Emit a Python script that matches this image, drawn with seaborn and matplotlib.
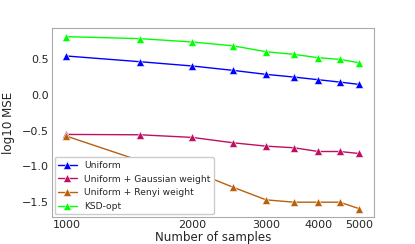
import numpy as np
import pandas as pd
import matplotlib
matplotlib.use("Agg")
import matplotlib.pyplot as plt
import seaborn as sns

# sample sizes on the x axis
samples = [1000, 1500, 2000, 2500, 3000, 3500, 4000, 4500, 5000]

# log10 MSE per method
uniform = [0.547, 0.467, 0.407, 0.346, 0.29, 0.252, 0.215, 0.182, 0.15]
gauss_w = [-0.551, -0.556, -0.593, -0.668, -0.715, -0.738, -0.79, -0.79, -0.818]
renyi_w = [-0.575, -0.92, -1.06, -1.29, -1.467, -1.5, -1.5, -1.5, -1.589]
ksd_opt = [0.818, 0.79, 0.743, 0.69, 0.607, 0.57, 0.523, 0.5, 0.453]

names = ["Uniform", "Uniform + Gaussian weight", "Uniform + Renyi weight", "KSD-opt"]
colors = ["#0000ff", "#bf0f62", "#b8600c", "#00ff00"]
xticks = [1000, 2000, 3000, 4000, 5000]

rows = []
for name, vals in zip(names, [uniform, gauss_w, renyi_w, ksd_opt]):
    for n, v in zip(samples, vals):
        rows.append({"n": n, "mse": v, "method": name})
df = pd.DataFrame(rows)

sns.set_style("white")
fig, ax = plt.subplots(figsize=(4.15, 2.44), dpi=100)

sns.lineplot(data=df, x="n", y="mse", hue="method", hue_order=names,
             palette=colors, marker="^", markersize=5.5, markeredgewidth=0.4,
             linewidth=1.0, ax=ax)

ax.set_xscale("log")
ax.set_xticks(xticks)
ax.set_xticklabels([str(t) for t in xticks])
ax.minorticks_off()
ax.tick_params(labelsize=8, length=0, pad=2)
ax.set_xlabel("Number of samples", fontsize=8.6, labelpad=1)
ax.set_ylabel("log10 MSE", fontsize=8.6, labelpad=5)
for s in ax.spines.values():
    s.set_color("#aaaaaa")
    s.set_linewidth(0.8)

ax.legend(loc="lower left", fontsize=6.6, frameon=True, framealpha=1,
          handlelength=2, borderaxespad=0.3)

plt.subplots_adjust(left=0.125, right=0.9, bottom=0.11, top=0.885)
fig.savefig("out.png", dpi=100)
